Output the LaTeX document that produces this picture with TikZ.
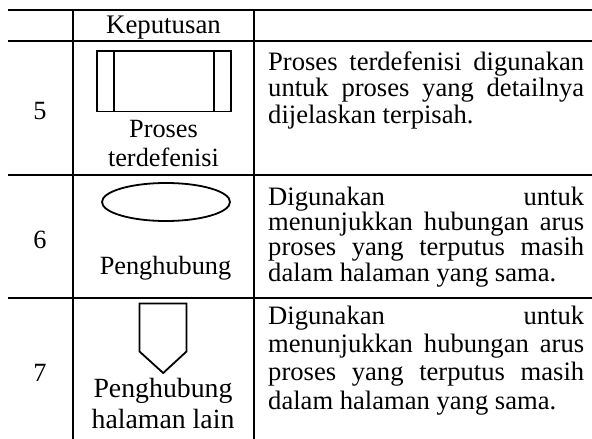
\documentclass[tikz,border=0pt]{standalone}
\usepackage{fontspec}
\setmainfont{Liberation Serif}
% a justified line of fixed width: spaces stretch to fill it
\newcommand\fulljustline[1]{\makebox[316pt][s]{#1}}
\begin{document}
\begin{tikzpicture}[x=1pt,y=-1pt,
  hrule/.style={line width=2.5pt},
  vrule/.style={line width=1.7pt},
  symbol/.style={line width=1.8pt, line join=miter},
  txt/.style={inner sep=0pt, font=\fontsize{26.3}{26}\selectfont},
  desc/.style={inner sep=0pt, align=left, anchor=north west},
  label/.style={txt, align=center, anchor=north}]
\useasboundingbox (0,0) rectangle (592,439);

% table rules
\draw[hrule] (8,10) -- (592,10);
\draw[hrule] (8,41) -- (592,41);
\draw[hrule] (8,175) -- (592,175);
\draw[hrule] (8,298) -- (592,298);
\draw[vrule] (73,10) -- (73,439);
\draw[vrule] (254,10) -- (254,439);

% header
\node[txt, anchor=base, font=\fontsize{26.8}{26}\selectfont] (hdr) at (163.5,33) {Keputusan};

% row numbers
\node[txt] (n5) at (40,111) {5};
\node[txt] (n6) at (40,240) {6};
\node[txt] (n7) at (40,373) {7};

% row 5: predefined process symbol
\draw[symbol] (97,51) rectangle (231,111.5);
\draw[symbol] (114.3,51) -- (114.3,111.5);
\draw[symbol] (213.7,51) -- (213.7,111.5);
\node[label, font=\fontsize{26.3}{29}\selectfont] (l5) at (163.5,120) {Proses\\terdefenisi};

% row 6: connector symbol
\draw[symbol] (166,202) ellipse (64 and 19);
\node[label] (l6) at (165.5,256) {Penghubung};

% row 7: off-page connector symbol
\draw[symbol] (139.5,303.5) -- (186.5,303.5) -- (186.5,351.5) -- (163.2,373) -- (139.5,351.5) -- cycle;
\node[label, font=\fontsize{27.8}{31.5}\selectfont] (l7) at (163,378) {Penghubung\\halaman lain};

% descriptions
\node[desc, font=\fontsize{26.6}{26.5}\selectfont] (d5) at (268,51.5) {\fulljustline{Proses terdefenisi digunakan}\\\fulljustline{untuk proses yang detailnya}\\dijelaskan terpisah.};
\node[desc, font=\fontsize{26.6}{25.3}\selectfont] (d6) at (268,186.5) {\fulljustline{Digunakan untuk}\\\fulljustline{menunjukkan hubungan arus}\\\fulljustline{proses yang terputus masih}\\dalam halaman yang sama.};
\node[desc, font=\fontsize{26.6}{28.3}\selectfont] (d7) at (268,305.5) {\fulljustline{Digunakan untuk}\\\fulljustline{menunjukkan hubungan arus}\\\fulljustline{proses yang terputus masih}\\dalam halaman yang sama.};
\end{tikzpicture}
\end{document}
